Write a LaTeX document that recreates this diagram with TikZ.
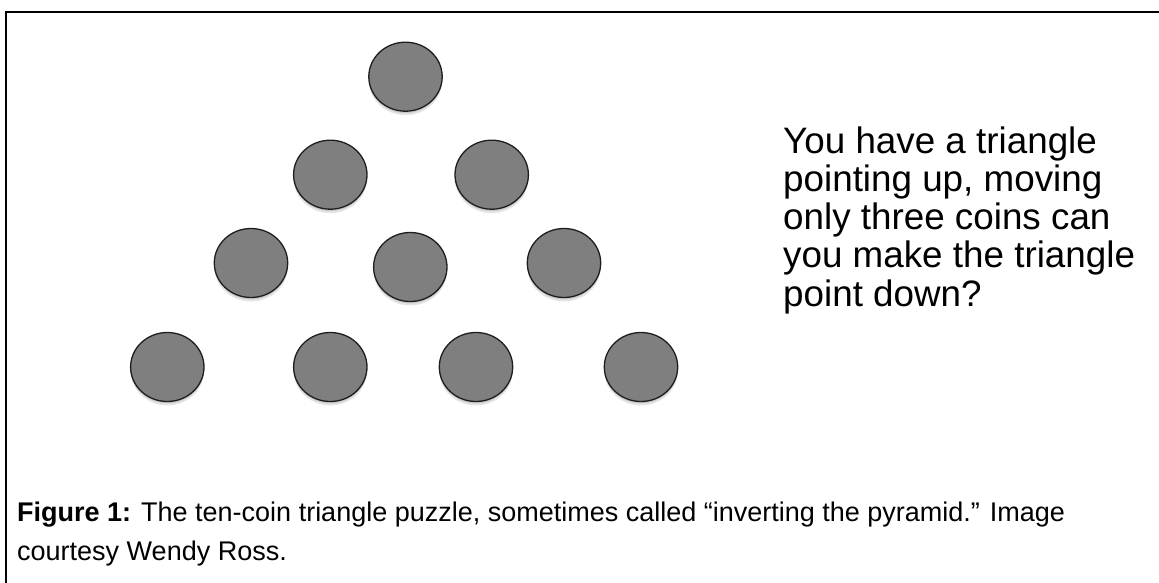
\documentclass[tikz,border=0pt]{standalone}
\usepackage{fontspec}
\setmainfont{Liberation Sans}
\usetikzlibrary{shapes.geometric,shadows}
\definecolor{coinfill}{HTML}{7F7F7F}
\definecolor{coinedge}{HTML}{1E1E1E}
\tikzset{
  coin/.style={ellipse, draw=coinedge, line width=1.3pt, fill=coinfill,
    minimum width=73.4pt, minimum height=69pt, inner sep=0pt,
    general shadow={fill=black, opacity=0.10, shadow yshift=-4pt},
    general shadow={fill=black, opacity=0.12, shadow yshift=-2pt}},
  frameline/.style={line width=1.7pt, draw=black},
  bigtext/.style={anchor=base west, align=left, inner sep=0pt,
    font=\fontsize{36.8}{38.3}\selectfont},
  captext/.style={anchor=base west, align=left, inner sep=0pt,
    font=\fontsize{27}{39}\selectfont}
}
\begin{document}
\begin{tikzpicture}[x=1pt,y=-1pt]
\useasboundingbox (0,0) rectangle (1159,583);
\draw[frameline] (6,583) -- (6,12) -- (1159,12);
% row 1
\node[coin] (c11) at (405.5,76.7) {};
% row 2
\node[coin] (c21) at (330.3,174.7) {};
\node[coin] (c22) at (491.7,174.7) {};
% row 3
\node[coin] (c31) at (251,263) {};
\node[coin] (c32) at (410.3,267) {};
\node[coin] (c33) at (564,263) {};
% row 4
\node[coin] (c41) at (167.3,367) {};
\node[coin] (c42) at (330.3,367) {};
\node[coin] (c43) at (476,367) {};
\node[coin] (c44) at (641,367) {};
% last-line baselines (first lines at 153 and 521)
\node[bigtext] (q) at (783,306.2) {You have a triangle\\pointing up, moving\\only three coins can\\you make the triangle\\point down?};
\node[captext] (cap) at (17,560) {\textbf{Figure 1:} The ten-coin triangle puzzle, sometimes called “inverting the pyramid.” Image\\courtesy Wendy Ross.};
\end{tikzpicture}
\end{document}
